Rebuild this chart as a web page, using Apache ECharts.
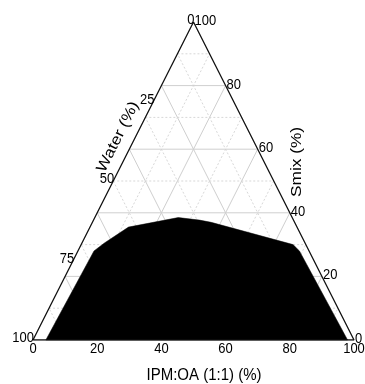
<!DOCTYPE html>
<html><head><meta charset="utf-8">
<script src="https://cdn.jsdelivr.net/npm/echarts@6/dist/echarts.min.js"></script>
<style>html,body{margin:0;padding:0;background:#fff}#c{width:365px;height:384px}</style>
</head><body><div id="c"></div>
<script>
// Ternary axes: IPM:OA (bottom), Smix (right), Water (left); Water = 100 - IPM - Smix
const ipmTicks = [0, 20, 40, 60, 80, 100];
const waterTicks = [0, 25, 50, 75, 100];
const smixTicks = [0, 20, 40, 60, 80, 100];
const gridSteps = [10, 20, 30, 40, 50, 60, 70, 80, 90];
// boundary of the black region (IPM %, Smix %)
const regionIPM  = [4, 5, 7, 12, 26, 33, 37, 66, 69, 98];
const regionSmix = [0, 28, 30.5, 35.5, 38.5, 37.7, 37, 30, 28, 0];
const titleBottom = 'IPM:OA (1:1) (%)';
const titleLeft = 'Water (%)';
const titleRight = 'Smix (%)';

const FONT = '"Liberation Sans", Arial, sans-serif';
function toXY(ipm, smix) { return [ipm + smix / 2, smix]; }

// grid segments
const gridRows = [];
gridSteps.forEach(v => {
  const major = v % 20 === 0 ? 1 : 0;
  // constant Smix
  let a = toXY(0, v), b = toXY(100 - v, v);
  gridRows.push([a[0], a[1], b[0], b[1], major]);
  // constant IPM
  a = toXY(v, 0); b = toXY(v, 100 - v);
  gridRows.push([a[0], a[1], b[0], b[1], major]);
  // constant Water
  a = toXY(100 - v, 0); b = toXY(0, 100 - v);
  gridRows.push([a[0], a[1], b[0], b[1], major]);
});

const regionRows = regionIPM.map((p, i) => toXY(p, regionSmix[i]));
const outline = [toXY(0, 0), toXY(100, 0), toXY(0, 100), toXY(0, 0)];

const bottomRows = ipmTicks.map(v => toXY(v, 0).concat([String(v)]));
const leftRows = waterTicks.map(w => toXY(0, 100 - w).concat([String(w)]));
const rightRows = smixTicks.map(s => toXY(100 - s, s).concat([String(s)]));

function labelSeries(rows, align, vAlign, dx, dy) {
  return {
    type: 'custom', coordinateSystem: 'cartesian2d', silent: true, z: 6, clip: false,
    data: rows.map(r => [r[0], r[1]]),
    renderItem(params, api) {
      const p = api.coord([api.value(0), api.value(1)]);
      return {
        type: 'text', x: p[0] + dx, y: p[1] + dy, scaleY: 1.12,
        style: { text: rows[params.dataIndex][2], fontSize: 13, fontFamily: FONT,
                 fill: '#000', align: align, verticalAlign: vAlign }
      };
    }
  };
}

const chart = echarts.init(document.getElementById('c'), null, { renderer: 'canvas' });
chart.setOption({
  animation: false,
  backgroundColor: '#fff',
  grid: { left: 33, right: 11, top: 22, bottom: 44 },
  xAxis: { type: 'value', min: 0, max: 100, show: false },
  yAxis: { type: 'value', min: 0, max: 100, show: false },
  series: [
    {
      type: 'custom', coordinateSystem: 'cartesian2d', silent: true, z: 1, clip: false,
      data: gridRows,
      renderItem(params, api) {
        const a = api.coord([api.value(0), api.value(1)]);
        const b = api.coord([api.value(2), api.value(3)]);
        const major = api.value(4) === 1;
        return {
          type: 'line', shape: { x1: a[0], y1: a[1], x2: b[0], y2: b[1] },
          style: { stroke: major ? '#cfcfcf' : '#d8d8d8', lineWidth: 1,
                   lineDash: major ? null : [2, 2] }
        };
      }
    },
    {
      type: 'custom', coordinateSystem: 'cartesian2d', silent: true, z: 3, clip: false,
      data: regionRows,
      renderItem(params, api) {
        if (params.dataIndex !== 0) return null;
        const pts = regionRows.map(r => api.coord(r));
        return { type: 'polygon', shape: { points: pts }, style: { fill: '#000', stroke: '#000', lineWidth: 0.5 } };
      }
    },
    {
      type: 'line', data: outline, symbol: 'none', silent: true, z: 4,
      lineStyle: { color: '#111', width: 1.3 }
    },
    labelSeries(bottomRows, 'center', 'top', 0, 2),
    labelSeries(leftRows, 'right', 'middle', 1, -2),
    labelSeries(rightRows, 'left', 'middle', 1, -1)
  ],
  graphic: [
    { type: 'text', x: 204, y: 375, scaleY: 1.12,
      style: { text: titleBottom, fontSize: 15, fontFamily: FONT, fill: '#000', align: 'center', verticalAlign: 'middle' } },
    { type: 'text', x: 118, y: 137, rotation: Math.atan2(318, 159), scaleX: 1.15,
      style: { text: titleLeft, fontSize: 15, fontFamily: FONT, fill: '#000', align: 'center', verticalAlign: 'middle' } },
    { type: 'text', x: 297, y: 162, rotation: Math.PI / 2, scaleX: 1.15,
      style: { text: titleRight, fontSize: 15, fontFamily: FONT, fill: '#000', align: 'center', verticalAlign: 'middle' } }
  ]
});
</script>
</body></html>
